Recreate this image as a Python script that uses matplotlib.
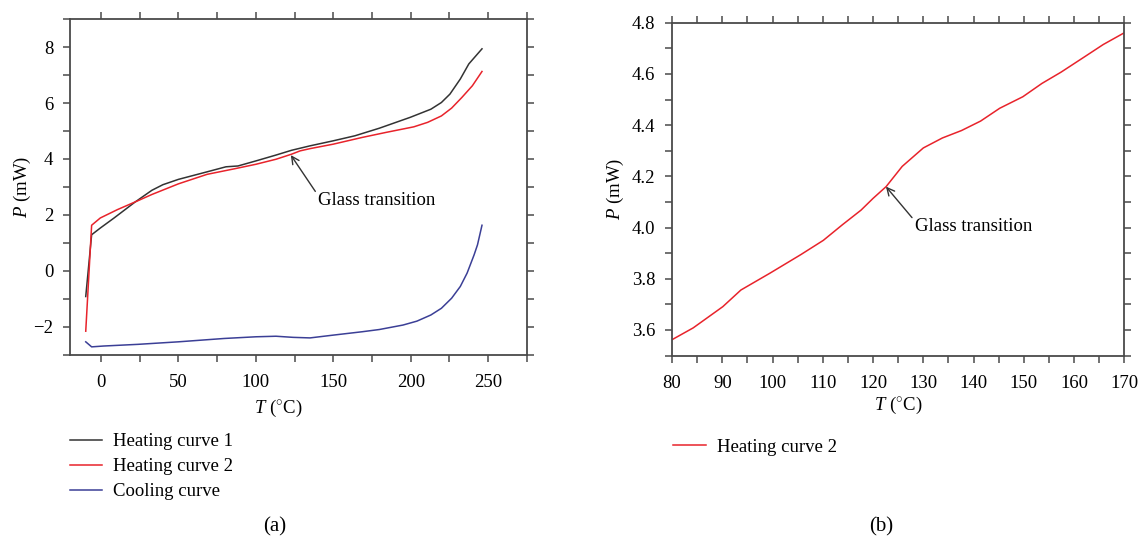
import matplotlib
matplotlib.use("Agg")
import matplotlib.pyplot as plt
from matplotlib.ticker import MultipleLocator

# ---------------- data (panel a) ----------------
t_heat1 = [-9.8, -6, -0.4, 8.5, 21.8, 32.9, 40, 50, 68.5, 80.7, 88.5, 100, 113, 123, 135,
           150, 164, 179.7, 199.7, 213, 219.8, 225.3, 232, 237.5, 246]
p_heat1 = [-0.92, 1.29, 1.53, 1.89, 2.45, 2.88, 3.08, 3.27, 3.54, 3.72, 3.75, 3.93, 4.14, 4.31, 4.47,
           4.65, 4.83, 5.10, 5.49, 5.78, 6.02, 6.32, 6.86, 7.40, 7.94]

t_heat2 = [-9.8, -6, -0.4, 10.7, 24, 32.9, 50, 68.5, 86.3, 100, 113, 123, 128.6, 135,
           150, 168.6, 184, 202, 210.9, 219.8, 226.4, 233, 239.8, 246]
p_heat2 = [-2.16, 1.63, 1.89, 2.19, 2.51, 2.73, 3.11, 3.45, 3.65, 3.81, 3.99, 4.17, 4.29, 4.37,
           4.53, 4.77, 4.95, 5.15, 5.31, 5.54, 5.82, 6.20, 6.62, 7.13]

t_cool = [-9.8, -6, 1.8, 24, 50, 79.6, 100, 113, 124, 135, 150, 168.6, 179.7, 195, 204,
          213, 219.8, 226.4, 232, 236.4, 240.9, 243.1, 246]
p_cool = [-2.54, -2.72, -2.69, -2.63, -2.54, -2.42, -2.36, -2.34, -2.38, -2.40, -2.30, -2.18,
          -2.10, -1.94, -1.80, -1.58, -1.34, -0.98, -0.56, -0.08, 0.57, 0.93, 1.63]

# ---------------- data (panel b) ----------------
t_zoom = [80, 84.2, 90.1, 93.7, 99.5, 105.6, 110.1, 113.9, 117.6, 120, 122.6, 125.8, 130,
          133.8, 137.6, 141.4, 145.2, 149.8, 153.6, 157.4, 162, 165.8, 170]
p_zoom = [3.562, 3.608, 3.691, 3.756, 3.822, 3.894, 3.950, 4.011, 4.068, 4.114, 4.160, 4.239,
          4.311, 4.350, 4.379, 4.416, 4.466, 4.511, 4.563, 4.607, 4.666, 4.715, 4.761]

labels_a = ["Heating curve 1", "Heating curve 2", "Cooling curve"]
label_b = "Heating curve 2"

plt.rcParams['font.family'] = ['Liberation Serif', 'DejaVu Serif']
plt.rcParams['mathtext.fontset'] = 'custom'
plt.rcParams['mathtext.it'] = 'Liberation Serif:italic'
plt.rcParams['mathtext.rm'] = 'Liberation Serif'

C_BLACK = '#333333'
C_RED = '#e8232b'
C_BLUE = '#3b3f96'
C_FRAME = '#4a4a4a'

fig = plt.figure(figsize=(11.41, 5.42), dpi=100)
ax1 = fig.add_axes([0.0613, 0.3456, 0.4005, 0.619])
ax2 = fig.add_axes([0.589, 0.344, 0.3964, 0.614])

fs = 13.5

def style(ax):
    for s in ax.spines.values():
        s.set_color(C_FRAME)
        s.set_linewidth(1.3)
    ax.tick_params(which='both', direction='out', top=True, right=True,
                   color=C_FRAME, labelsize=fs, width=1.1)
    ax.tick_params(which='major', length=5)
    ax.tick_params(which='minor', length=5)
    ax.tick_params(axis='x', which='major', pad=9)
    ax.tick_params(axis='y', which='major', pad=7)

l1, = ax1.plot(t_heat1, p_heat1, color=C_BLACK, lw=1.1)
l2, = ax1.plot(t_heat2, p_heat2, color=C_RED, lw=1.1)
l3, = ax1.plot(t_cool, p_cool, color=C_BLUE, lw=1.1)
ax1.set_xlim(-20, 275)
ax1.set_ylim(-3, 9)
ax1.xaxis.set_major_locator(MultipleLocator(50))
ax1.xaxis.set_minor_locator(MultipleLocator(25))
ax1.yaxis.set_major_locator(MultipleLocator(2))
ax1.yaxis.set_minor_locator(MultipleLocator(1))
style(ax1)
ax1.set_ylabel(r'$P$ (mW)', fontsize=fs, labelpad=0.5)
ax1.text(0.455, -0.16, r'$T$ ($^{\circ}$C)', transform=ax1.transAxes, fontsize=fs,
         ha='center', va='center')
ax1.annotate('Glass transition', xy=(122.6, 4.14), xytext=(140.2, 2.51),
             fontsize=fs, va='center', ha='left',
             arrowprops=dict(arrowstyle='->', color=C_BLACK, lw=1.0,
                             shrinkA=0, shrinkB=0, relpos=(0, 0.8)))
ax1.legend([l1, l2, l3], labels_a, loc='upper left', frameon=False, fontsize=fs,
           bbox_to_anchor=(0.0545, 0.215), bbox_transform=fig.transFigure,
           handlelength=1.75, handletextpad=0.55, labelspacing=0.42, borderaxespad=0)

lb, = ax2.plot(t_zoom, p_zoom, color=C_RED, lw=1.1)
ax2.set_xlim(80, 170)
ax2.set_ylim(3.5, 4.8)
ax2.xaxis.set_major_locator(MultipleLocator(10))
ax2.xaxis.set_minor_locator(MultipleLocator(5))
ax2.yaxis.set_major_locator(MultipleLocator(0.2))
ax2.yaxis.set_minor_locator(MultipleLocator(0.1))
ax2.yaxis.set_major_formatter(plt.FormatStrFormatter('%.1f'))
style(ax2)
ax2.set_ylabel(r'$P$ (mW)', fontsize=fs, labelpad=4.5)
ax2.set_xlabel(r'$T$ ($^{\circ}$C)', fontsize=fs, labelpad=2)
ax2.annotate('Glass transition', xy=(122.56, 4.16), xytext=(128.3, 4.006),
             fontsize=fs, va='center', ha='left',
             arrowprops=dict(arrowstyle='->', color=C_BLACK, lw=1.0,
                             shrinkA=0, shrinkB=0, relpos=(0, 0.8)))
ax2.legend([lb], [label_b], loc='upper left', frameon=False, fontsize=fs,
           bbox_to_anchor=(0.5836, 0.204), bbox_transform=fig.transFigure,
           handlelength=1.75, handletextpad=0.55, borderaxespad=0)

fig.text(275 / 1141, 1 - 527 / 542, '(a)', fontsize=15, ha='center', va='center')
fig.text(881 / 1141, 1 - 527 / 542, '(b)', fontsize=15, ha='center', va='center')

fig.savefig('out.png', dpi=100)
